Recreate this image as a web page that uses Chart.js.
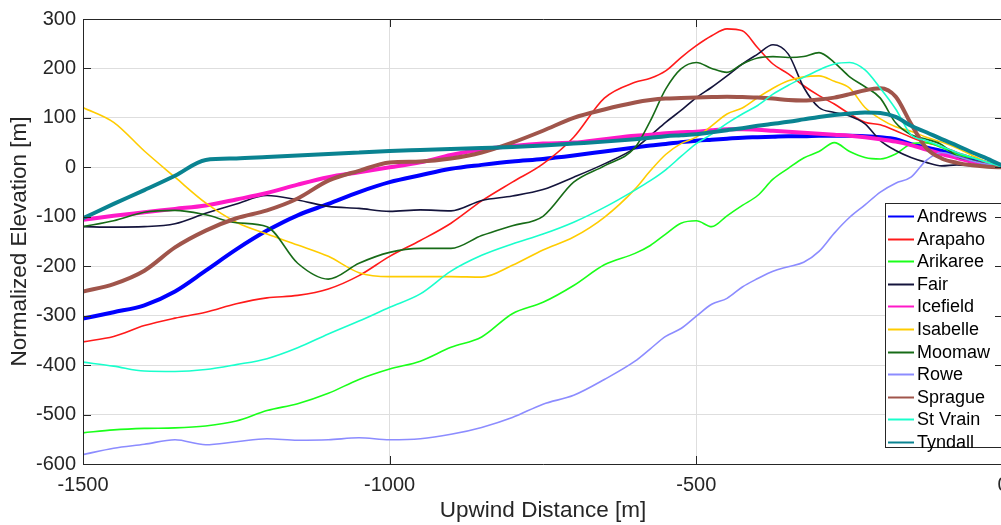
<!DOCTYPE html>
<html>
<head>
<meta charset="utf-8">
<script src="https://cdn.jsdelivr.net/npm/chart.js@4/dist/chart.umd.min.js"></script>
<style>
  html, body { margin: 0; padding: 0; background: #fff; overflow: hidden; }
  #wrap { position: relative; width: 1020px; height: 525px; }
</style>
</head>
<body>
<div id="wrap"><canvas id="profiles"></canvas></div>
<script>
// upwind distance [m], shared by every glacier profile
const distance = [-1500, -1450, -1400, -1350, -1300, -1250, -1200, -1150, -1100, -1050,
  -1000, -950, -900, -850, -800, -750, -700, -650, -600,
  -575, -550, -525, -500, -475, -450, -425, -400, -375, -350, -325,
  -300, -275, -250, -225, -200, -175, -150, -125, -100, -75, -50, -25, 0];

// normalized elevation [m]
const andrews = [-306, -293, -279, -251, -209, -166, -128, -97, -74, -50,
  -30, -16, -3, 5, 12, 17, 24, 32, 40,
  44, 47, 51, 54, 56, 58, 60, 61, 62, 63, 63, 64, 64, 64, 63, 61, 57, 47, 40, 33, 25, 17, 8, 0];
const arapaho = [-353, -342, -320, -305, -293, -276, -264, -259, -246, -219,
  -180, -148, -113, -68, -30, 7, 61, 140, 172,
  180, 195, 222, 246, 266, 280, 276, 242, 209, 189, 165, 145, 128, 108, 91, 86, 74, 61, 50, 42, 30, 20, 10, 0];
const arikaree = [-537, -531, -528, -527, -523, -513, -492, -478, -457, -429,
  -408, -392, -364, -343, -296, -273, -239, -197, -174,
  -158, -135, -113, -108, -120, -98, -77, -57, -24, -2, 19, 32, 50, 32, 20, 17, 27, 47, 50, 40, 26, 19, 10, 0];
const fair = [-120, -121, -120, -114, -93, -74, -57, -66, -79, -83,
  -89, -86, -88, -67, -58, -45, -20, 7, 39,
  64, 91, 115, 141, 162, 185, 209, 229, 248, 229, 162, 121, 111, 104, 88, 54, 34, 20, 10, 3, 5, 3, 2, 0];
const icefield = [-106, -98, -91, -84, -77, -65, -52, -35, -20, -10,
  0, 10, 25, 36, 43, 48, 50, 57, 64,
  66, 69, 71, 72, 75, 77, 77, 76, 74, 72, 70, 68, 66, 64, 61, 57, 52, 45, 36, 27, 19, 11, 5, 0];
const isabelle = [121, 91, 33, -20, -72, -111, -135, -157, -180, -213,
  -221, -221, -221, -222, -198, -167, -141, -101, -44,
  -7, 26, 48, 61, 84, 108, 120, 141, 160, 175, 183, 185, 174, 160, 121, 98, 82, 73, 61, 51, 39, 24, 10, 0];
const moomaw = [-120, -108, -91, -87, -96, -112, -120, -194, -226, -194,
  -172, -164, -164, -138, -118, -99, -30, 3, 40,
  94, 158, 199, 212, 200, 192, 209, 221, 224, 222, 224, 232, 212, 183, 163, 140, 90, 66, 57, 46, 22, 14, 6, 0];
const rowe = [-581, -568, -560, -551, -561, -555, -549, -552, -551, -547,
  -551, -549, -540, -526, -506, -479, -461, -429, -392,
  -367, -342, -326, -301, -277, -265, -242, -225, -210, -201, -192, -170, -133, -101, -76, -50, -32, -20, 14, 30, 22, 13, 6, 0];
const sprague = [-251, -236, -209, -162, -128, -103, -87, -63, -27, -7,
  10, 12, 18, 30, 50, 74, 100, 117, 131,
  136, 139, 140, 141, 142, 143, 142, 141, 139, 136, 135, 137, 141, 148, 156, 160, 143, 88, 39, 18, 9, 4, 1, 0];
const stVrain = [-394, -402, -412, -413, -409, -399, -387, -365, -337, -311,
  -283, -256, -210, -178, -155, -135, -111, -81, -46,
  -27, -5, 22, 48, 67, 89, 108, 125, 148, 166, 182, 197, 209, 212, 197, 160, 118, 66, 54, 42, 30, 20, 10, 0];
const tyndall = [-103, -74, -46, -17, 15, 18, 21, 24, 27, 30,
  33, 35, 37, 39, 41, 44, 48, 52, 57,
  60, 63, 65, 67, 71, 75, 79, 84, 88, 92, 97, 102, 106, 109, 111, 110, 102, 84, 71, 57, 44, 30, 17, 3];

const glacierNames = ['Andrews', 'Arapaho', 'Arikaree', 'Fair', 'Icefield', 'Isabelle',
  'Moomaw', 'Rowe', 'Sprague', 'St Vrain', 'Tyndall'];
const profiles = [andrews, arapaho, arikaree, fair, icefield, isabelle,
  moomaw, rowe, sprague, stVrain, tyndall];

// styles
const lineColors = ['#0000ff', '#ff1a1a', '#1aff1a', '#14143c', '#ff19c8', '#ffcc00',
  '#176b17', '#8c8cff', '#a0554b', '#19ffcc', '#0a8391'];
const lineWidths = [4, 1.6, 1.6, 1.6, 4, 1.6, 1.6, 1.6, 4, 1.6, 4];
const axisColor = '#262626';
const gridColor = '#dedede';
const fontFamily = "'Liberation Sans', Arial, Helvetica, sans-serif";

// legend drawn inside the axes like MATLAB's 'best' location
const legendBox = {
    id: 'legendBox',
    afterDraw(chart) {
        const ctx = chart.ctx;
        ctx.save();
        ctx.fillStyle = '#ffffff';
        ctx.fillRect(885, 203, 140, 244);
        ctx.strokeStyle = axisColor;
        ctx.lineWidth = 1;
        ctx.strokeRect(885.5, 203.5, 140, 244);
        ctx.font = '18px ' + fontFamily;
        ctx.textBaseline = 'middle';
        chart.data.datasets.forEach((ds, i) => {
            const y = Math.round(216 + i * 22.6) + 0.5;
            ctx.strokeStyle = ds.borderColor;
            ctx.lineWidth = 2;
            ctx.beginPath();
            ctx.moveTo(888, y);
            ctx.lineTo(914, y);
            ctx.stroke();
            ctx.fillStyle = '#000000';
            ctx.fillText(ds.label, 917, y + 1);
        });
        ctx.restore();
    }
};

// box around the axes with inward tick marks
const frame = {
    id: 'frame',
    afterDraw(chart) {
        const { ctx, chartArea: { left, right, top, bottom } } = chart;
        const xs = chart.scales.x;
        const ys = chart.scales.y;
        ctx.save();
        ctx.strokeStyle = axisColor;
        ctx.lineWidth = 1;
        ctx.beginPath();
        ctx.rect(Math.round(left) + 0.5, Math.round(top) + 0.5, Math.round(right - left), Math.round(bottom - top));
        xs.ticks.forEach(t => {
            const px = Math.round(xs.getPixelForValue(t.value)) + 0.5;
            ctx.moveTo(px, bottom);
            ctx.lineTo(px, bottom - 8);
            ctx.moveTo(px, top);
            ctx.lineTo(px, top + 8);
        });
        ys.ticks.forEach(t => {
            const py = Math.round(ys.getPixelForValue(t.value)) + 0.5;
            ctx.moveTo(left, py);
            ctx.lineTo(left + 8, py);
            ctx.moveTo(right, py);
            ctx.lineTo(right - 8, py);
        });
        ctx.stroke();
        ctx.restore();
    }
};

const datasets = glacierNames.map((name, i) => ({
    label: name,
    data: distance.map((d, k) => ({ x: d, y: profiles[i][k] })),
    borderColor: lineColors[i],
    backgroundColor: lineColors[i],
    borderWidth: lineWidths[i],
    pointRadius: 0,
    fill: false,
    cubicInterpolationMode: 'monotone',
    order: glacierNames.length - i,
}));

new Chart(document.getElementById('profiles'), {
    type: 'line',
    data: { datasets: datasets },
    options: {
        responsive: true,
        maintainAspectRatio: false,
        animation: false,
        layout: { padding: { top: 18, right: 17, bottom: 0, left: 0 } },
        plugins: {
            legend: { display: false },
            tooltip: { enabled: false },
        },
        scales: {
            x: {
                type: 'linear',
                min: -1500,
                max: 0,
                ticks: {
                    stepSize: 500,
                    maxRotation: 0,
                    padding: 9,
                    color: axisColor,
                    font: { family: fontFamily, size: 20 },
                    callback: v => String(v),
                },
                grid: { color: gridColor, drawTicks: false },
                border: { display: false },
                title: {
                    display: true,
                    text: 'Upwind Distance [m]',
                    color: axisColor,
                    font: { family: fontFamily, size: 22.5 },
                    padding: { top: 0, bottom: 1 },
                },
                afterFit: s => { s.height = 61; },
            },
            y: {
                min: -600,
                max: 300,
                ticks: {
                    stepSize: 100,
                    padding: 7,
                    color: axisColor,
                    font: { family: fontFamily, size: 20 },
                    callback: v => String(v),
                },
                grid: { color: gridColor, drawTicks: false },
                border: { display: false },
                title: {
                    display: true,
                    text: 'Normalized Elevation [m]',
                    color: axisColor,
                    font: { family: fontFamily, size: 22.5 },
                    padding: { top: 6, bottom: 0 },
                },
                afterFit: s => { s.width = 83; },
            }
        }
    },
    plugins: [legendBox, frame]
});
</script>
</body>
</html>
